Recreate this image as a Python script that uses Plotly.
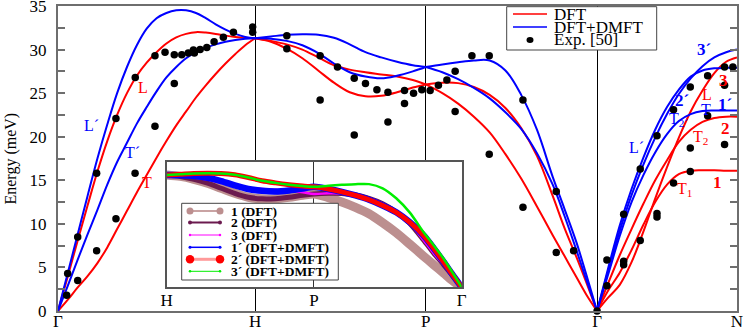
import plotly.graph_objects as go

# high-symmetry points along the bcc path
k_sym = [0.0, 1.0, 1.866, 2.735, 3.445]
sym_labels = ['Γ', 'H', 'P', 'Γ', 'N']
inset_k_sym = [1.0, 1.866, 2.735]
inset_labels = ['H', 'P', 'Γ']

# k grids of the four path segments
k_GH = [0, 0.05, 0.1, 0.15, 0.2, 0.25, 0.3, 0.35, 0.4, 0.45, 0.5,
        0.55, 0.6, 0.65, 0.7, 0.75, 0.8, 0.85, 0.9, 0.95, 1.0]
k_HP = [1.0, 1.08, 1.16, 1.24, 1.32, 1.40, 1.48, 1.56, 1.64, 1.72, 1.80, 1.866]
k_PG = [1.866, 1.95, 2.03, 2.11, 2.19, 2.27, 2.35, 2.43, 2.51, 2.57, 2.63, 2.68, 2.735]
k_GN = [2.735, 2.79, 2.85, 2.91, 2.97, 3.03, 3.09, 3.15, 3.21, 3.27, 3.33, 3.39, 3.445]

# phonon energies (meV), DFT = red, DFT+DMFT = blue
dft_GH_L = [0, 4.0, 8.1, 12.1, 16.0, 19.5, 22.5, 25.0, 27.0, 28.5, 29.7,
            30.7, 31.4, 31.8, 32.0, 31.95, 31.8, 31.6, 31.45, 31.35, 31.3]
dft_GH_T = [0, 1.3, 2.7, 4.0, 5.5, 7.3, 9.4, 11.5, 13.6, 15.6, 17.6,
            19.5, 21.3, 22.9, 24.5, 25.9, 27.2, 28.4, 29.5, 30.5, 31.3]
dmft_GH_L = [0, 4.4, 8.8, 13.2, 17.5, 21.4, 25.0, 28.0, 30.5, 32.4, 33.6,
             34.2, 34.5, 34.5, 34.2, 33.6, 32.9, 32.3, 31.8, 31.45, 31.3]
dmft_GH_T = [0, 2.9, 5.9, 8.8, 11.6, 14.5, 17.1, 19.3, 21.5, 23.4, 25.2,
             26.8, 28.0, 29.0, 29.7, 30.2, 30.6, 30.9, 31.1, 31.25, 31.3]

dft_HP_up = [31.3, 31.0, 30.6, 30.0, 29.1, 28.2, 27.7, 27.4, 27.15, 26.9, 26.5, 26.0]
dft_HP_low = [31.3, 30.9, 30.1, 29.0, 27.6, 26.2, 25.1, 24.65, 24.7, 25.1, 25.65, 26.0]
dmft_HP_up = [31.3, 31.5, 31.7, 31.75, 31.7, 31.35, 30.6, 29.7, 29.1, 28.6, 28.2, 28.0]
dmft_HP_low = [31.3, 31.25, 31.0, 30.5, 29.6, 28.4, 27.4, 26.9, 26.7, 27.0, 27.5, 28.0]

dft_PG_up = [26.0, 26.2, 26.15, 25.7, 24.8, 23.3, 21.0, 17.8, 13.2, 9.5, 6.2, 3.3, 0]
dft_PG_low = [26.0, 25.0, 23.8, 22.3, 20.5, 18.0, 15.2, 12.0, 8.7, 6.3, 3.9, 1.9, 0]
dmft_PG_up = [28.0, 28.3, 28.55, 28.75, 28.75, 27.6, 24.8, 20.8, 15.4, 11.7, 7.9, 4.2, 0]
dmft_PG_low = [28.0, 27.4, 26.6, 25.6, 24.4, 22.8, 20.9, 18.1, 14.5, 10.9, 7.0, 3.6, 0]

dft_GN_1 = [0, 2.3, 4.4, 7.0, 9.9, 12.5, 14.5, 15.7, 16.1, 16.15, 16.15, 16.1, 16.1]
dft_GN_2 = [0, 3.1, 6.4, 9.4, 12.3, 15.0, 17.3, 19.4, 20.8, 21.7, 22.15, 22.3, 22.3]
dft_GN_3 = [0, 1.5, 3.0, 5.6, 9.1, 12.9, 16.5, 19.9, 22.9, 25.3, 27.3, 28.6, 29.1]
dmft_GN_1 = [0, 4.1, 8.6, 12.5, 15.6, 18.2, 20.3, 21.8, 22.6, 22.95, 23.0, 23.0, 23.0]
dmft_GN_2 = [0, 4.8, 9.8, 14.0, 17.6, 20.8, 23.4, 25.4, 26.9, 27.6, 27.85, 27.9, 27.9]
dmft_GN_3 = [0, 4.5, 9.2, 13.3, 16.8, 19.9, 22.6, 24.9, 26.7, 28.1, 29.1, 29.7, 30.0]

# experiment [50]
exp_k = [0.044, 0.049, 0.100, 0.100, 0.196, 0.196, 0.294, 0.294, 0.391, 0.392,
         0.492, 0.492, 0.543, 0.590, 0.590, 0.628, 0.661, 0.687, 0.692, 0.721,
         0.755, 0.792, 0.839, 0.890, 0.988, 0.988,
         1.161, 1.161, 1.330, 1.330, 1.418, 1.503, 1.503, 1.560, 1.618, 1.674,
         1.674, 1.758, 1.758, 1.804, 1.846, 1.888,
         1.930, 1.973, 2.015, 2.015, 2.100, 2.188, 2.188, 2.359, 2.359, 2.528,
         2.528, 2.616, 2.735,
         2.785, 2.785, 2.870, 2.870, 2.870, 2.954, 2.954, 3.039, 3.039, 3.039,
         3.123, 3.123, 3.208, 3.208, 3.208, 3.296, 3.296, 3.382, 3.382, 3.382, 3.424]
exp_E = [1.8, 4.3, 3.5, 8.5, 6.9, 15.8, 10.6, 22.1, 15.8, 26.8,
         21.2, 29.3, 29.7, 26.1, 29.4, 29.4, 29.6, 29.95, 29.6, 30.0,
         30.25, 30.9, 31.4, 32.0, 32.6, 32.0,
         31.6, 30.1, 29.3, 24.2, 28.0, 26.7, 20.2, 26.1, 25.4, 25.1,
         21.7, 25.3, 23.8, 25.0, 25.4, 25.3,
         25.9, 26.5, 27.5, 22.9, 29.3, 29.3, 18.0, 24.2, 11.9, 13.7,
         6.7, 6.9, 0.0,
         2.9, 5.85, 5.7, 5.3, 11.1, 8.1, 16.3, 20.1, 11.2, 10.8,
         14.7, 23.1, 18.7, 16.0, 25.7, 27.0, 22.4, 28.0, 25.9, 19.1, 28.0]

# inset: branch numbering along H-P-Γ
inset_names = ['1 (DFT)', '2 (DFT)', '3 (DFT)',
               '1´ (DFT+DMFT)', '2´ (DFT+DMFT)', '3´ (DFT+DMFT)']
inset_HP = [dft_HP_low, dft_HP_low, dft_HP_up, dmft_HP_low, dmft_HP_up, dmft_HP_up]
inset_PG = [dft_PG_low, dft_PG_up, dft_PG_up, dmft_PG_low, dmft_PG_low, dmft_PG_up]

RED = '#ff0000'
BLUE = '#0000ff'
FONT = 'Liberation Serif'
inset_colors = ['#bc8f8f', '#6b1a4f', '#ff00ff', '#0000ff', '#ff0000', '#00ee00']
inset_widths = [9, 5, 2.5, 6.5, 5, 2.5]
leg_line_colors = ['#c9a3a3', '#6b1a4f', '#ff00ff', '#0000ff', '#ff9a9a', '#00ee00']
leg_line_widths = [2, 2, 1, 1.5, 3, 1]
leg_marker_d = [7, 4, 2.5, 3, 8.5, 2.5]

W, H = 747, 327
L, R, T, B = 58, 10, 6, 16


def px(x):
    return (x - L) / (W - L - R)


def py(y):
    return (H - B - y) / (H - T - B)


fig = go.Figure()

segments = [
    (k_GH, [dft_GH_L, dft_GH_T], [dmft_GH_L, dmft_GH_T]),
    (k_HP, [dft_HP_up, dft_HP_low], [dmft_HP_up, dmft_HP_low]),
    (k_PG, [dft_PG_up, dft_PG_low], [dmft_PG_up, dmft_PG_low]),
    (k_GN, [dft_GN_1, dft_GN_2, dft_GN_3], [dmft_GN_1, dmft_GN_2, dmft_GN_3]),
]
for k, reds, blues in segments:
    for e in reds:
        fig.add_trace(go.Scatter(x=k, y=e, mode='lines', showlegend=False,
                                 line=dict(color=RED, width=2, shape='spline', smoothing=1)))
    for e in blues:
        fig.add_trace(go.Scatter(x=k, y=e, mode='lines', showlegend=False,
                                 line=dict(color=BLUE, width=2, shape='spline', smoothing=1)))

fig.add_trace(go.Scatter(x=exp_k, y=exp_E, mode='markers', showlegend=False, cliponaxis=False,
                         marker=dict(color='black', size=7.5)))

# inset
for i, name in enumerate(inset_names):
    fig.add_trace(go.Scatter(x=k_HP + k_PG[1:], y=inset_HP[i] + inset_PG[i][1:],
                             mode='lines', name=name, showlegend=False,
                             xaxis='x2', yaxis='y2',
                             line=dict(color=inset_colors[i], width=inset_widths[i],
                                       shape='spline', smoothing=0.8)))

axis_gray = '#6e6e6e'
tickfont = dict(family=FONT, size=17, color='black')

fig.update_layout(
    template='none',
    width=W, height=H,
    margin=dict(l=L, r=R, t=T, b=B, pad=0),
    paper_bgcolor='white', plot_bgcolor='white',
    font=dict(family=FONT, color='black'),
    xaxis=dict(range=[0, k_sym[-1]], tickvals=k_sym, ticktext=sym_labels, ticks='',
               automargin=False, ticklabelstandoff=-6, ticklabeloverflow='allow',
               showgrid=True, gridcolor='black', gridwidth=1, zeroline=False,
               showline=True, mirror=True, linecolor=axis_gray, linewidth=2,
               tickfont=tickfont),
    yaxis=dict(range=[0, 35], dtick=5, ticks='inside', ticklen=7, tickcolor=axis_gray,
               tickwidth=1.5, showgrid=False, zeroline=False, automargin=False,
               ticklabeloverflow='allow',
               showline=True, mirror='ticks', linecolor=axis_gray, linewidth=2,
               minor=dict(dtick=2.5, ticks='inside', ticklen=7, tickcolor=axis_gray, tickwidth=1.5),
               tickfont=tickfont, ticklabelstandoff=6),
    xaxis2=dict(domain=[px(166.7), px(461.7)], anchor='y2', range=[inset_k_sym[0], inset_k_sym[-1]],
                tickvals=inset_k_sym, ticktext=inset_labels, ticks='', automargin=False,
                ticklabeloverflow='allow',
                showgrid=True, gridcolor='#333', gridwidth=1, zeroline=False,
                showline=True, mirror=True, linecolor='#555', linewidth=1.5,
                tickfont=tickfont, ticklabelstandoff=-3),
    yaxis2=dict(domain=[py(287.3), py(161.7)], anchor='x2', range=[0, 35], automargin=False,
                showticklabels=False, ticks='', showgrid=False, zeroline=False,
                showline=True, mirror=True, linecolor='#555', linewidth=1.5),
)

shapes = []
annotations = []

# main legend box
shapes.append(dict(type='rect', xref='paper', yref='paper', layer='above',
                   x0=px(506.7), x1=px(656.7), y0=py(50), y1=py(6.7),
                   fillcolor='white', line=dict(color='#444', width=1)))
for yy, col in [(14, RED), (27, BLUE)]:
    shapes.append(dict(type='line', xref='paper', yref='paper', layer='above',
                       x0=px(513), x1=px(547), y0=py(yy), y1=py(yy),
                       line=dict(color=col, width=1.5)))
shapes.append(dict(type='circle', xref='paper', yref='paper', layer='above',
                   x0=px(526.5), x1=px(533.5), y0=py(43), y1=py(37),
                   fillcolor='black', line=dict(width=0)))
for yy, txt in [(14, 'DFT'), (27, 'DFT+DMFT'), (40, 'Exp. [50]')]:
    annotations.append(dict(xref='paper', yref='paper', x=px(552), y=py(yy), text=txt,
                            xanchor='left', yanchor='middle', showarrow=False,
                            font=dict(family=FONT, size=17, color='black')))

# inset legend box
shapes.append(dict(type='rect', xref='paper', yref='paper', layer='above',
                   x0=px(181.7), x1=px(338.3), y0=py(280), y1=py(203.3),
                   fillcolor='white', line=dict(color='#444', width=1)))
rows = [211, 222.5, 235, 247.3, 259.3, 271.3]
for i, name in enumerate(inset_names):
    yy = rows[i]
    shapes.append(dict(type='line', xref='paper', yref='paper', layer='above',
                       x0=px(190), x1=px(220), y0=py(yy), y1=py(yy),
                       line=dict(color=leg_line_colors[i], width=leg_line_widths[i])))
    d = leg_marker_d[i]
    for cx in (190, 220):
        shapes.append(dict(type='circle', xref='paper', yref='paper', layer='above',
                           x0=px(cx - d / 2), x1=px(cx + d / 2), y0=py(yy + d / 2), y1=py(yy - d / 2),
                           fillcolor=inset_colors[i], line=dict(width=0)))
    annotations.append(dict(xref='paper', yref='paper', x=px(229), y=py(yy), text='<b>' + name + '</b>',
                            xanchor='left', yanchor='middle', showarrow=False,
                            font=dict(family=FONT, size=13.5, color='black')))

# axis title
annotations.append(dict(xref='paper', yref='paper', x=px(10), y=0.5, text='Energy (meV)',
                        textangle=-90, showarrow=False, xanchor='center', yanchor='middle',
                        font=dict(family=FONT, size=16, color='black')))

# branch labels
labels = [
    ('L', 0.43, 25.7, RED, False), ('L´', 0.17, 21.3, BLUE, False),
    ('T´', 0.38, 18.2, BLUE, False), ('T', 0.45, 14.7, RED, False),
    ('3´', 3.276, 30.0, BLUE, True), ('3', 3.377, 26.5, RED, True),
    ('L', 3.293, 24.8, RED, False), ('2´', 3.165, 24.1, BLUE, True),
    ('T<sub>2´</sub>', 3.15, 22.0, BLUE, False), ('T', 3.29, 23.1, BLUE, False),
    ('1´', 3.385, 23.7, BLUE, True), ('2', 3.386, 21.0, RED, True),
    ('T<sub>2</sub>', 3.262, 19.9, RED, False), ('L´', 2.937, 18.8, BLUE, False),
    ('T<sub>1</sub>', 3.177, 14.0, RED, False), ('1', 3.344, 14.8, RED, True),
]
for txt, kx, ey, col, bold in labels:
    annotations.append(dict(x=kx, y=ey, xref='x', yref='y', showarrow=False,
                            text=('<b>' + txt + '</b>') if bold else txt,
                            font=dict(family=FONT, size=17 if bold else 16, color=col)))

fig.update_layout(shapes=shapes, annotations=annotations)

# page body has a default 8px margin; drop it so the figure sits at the window corner
fig.write_html('out.html', config={'displayModeBar': False},
               post_script="document.body.style.margin='0';")
